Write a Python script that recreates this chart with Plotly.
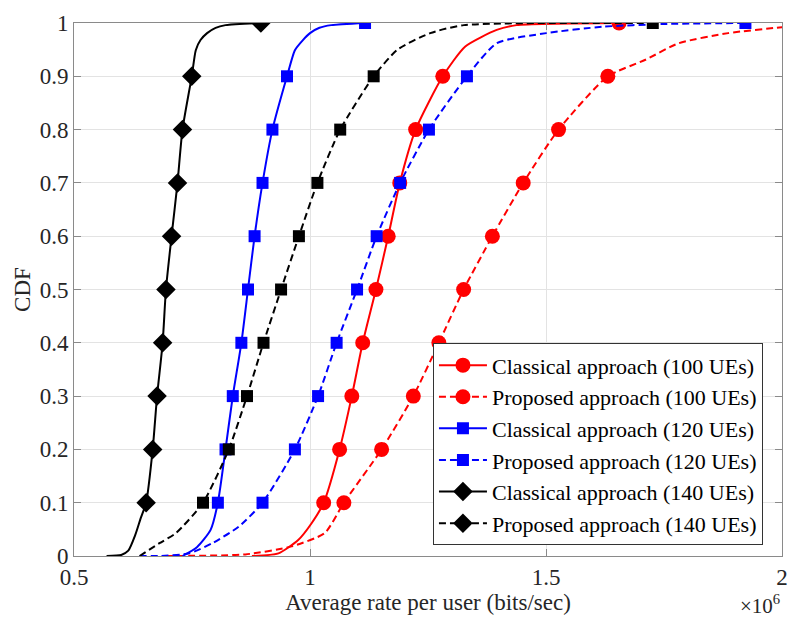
import plotly.graph_objects as go

# ---- data (x in units of 1e6 bits/sec) ----
cdf_levels = [0.1, 0.2, 0.3, 0.4, 0.5, 0.6, 0.7, 0.8, 0.9, 1.0]

# Classical approach (100 UEs)
c100_mx = [1.029, 1.0627, 1.0886, 1.1117, 1.1397, 1.1657, 1.1902, 1.2238, 1.2813, 1.6548]
c100_lo_x = [0.877, 0.933, 0.975, 1.003]
c100_lo_y = [0.0, 0.005, 0.03, 0.061]
c100_hi_x = [1.329, 1.3955, 1.4376]
c100_hi_y = [0.956, 0.987, 0.996]

# Proposed approach (100 UEs)
p100_mx = [1.0718, 1.1517, 1.2189, 1.273, 1.3255, 1.3864, 1.4517, 1.5266, 1.631, 2.12]
p100_lo_x = [0.695, 0.863, 0.961, 1.0312]
p100_lo_y = [0.0, 0.003, 0.018, 0.043]
p100_hi_x = [1.7108, 1.781, 1.886, 2.0]
p100_hi_y = [0.931, 0.962, 0.981, 0.992]

# Classical approach (120 UEs)
c120_mx = [0.8048, 0.821, 0.8364, 0.8546, 0.8686, 0.8826, 0.8994, 0.9204, 0.9513, 1.1166]
c120_lo_x = [0.73, 0.761, 0.7894]
c120_lo_y = [0.0, 0.017, 0.049]
c120_hi_x = [0.968, 0.985, 1.0, 1.02, 1.045]
c120_hi_y = [0.949, 0.968, 0.981, 0.991, 0.996]

# Proposed approach (120 UEs)
p120_mx = [0.8994, 0.968, 1.0171, 1.0564, 1.0997, 1.1412, 1.191, 1.252, 1.3325, 1.9225]
p120_lo_x = [0.639, 0.681, 0.744, 0.793, 0.849]
p120_lo_y = [0.0, 0.0, 0.005, 0.024, 0.055]
p120_hi_x = [1.3955, 1.5006, 1.62, 1.746]
p120_hi_y = [0.962, 0.981, 0.993, 0.998]

# Classical approach (140 UEs)
c140_mx = [0.6528, 0.6667, 0.676, 0.6878, 0.6948, 0.7067, 0.7193, 0.7298, 0.7495, 0.8959]
c140_lo_x = [0.569, 0.60, 0.615, 0.63, 0.641]
c140_lo_y = [0.0, 0.002, 0.01, 0.04, 0.07]
c140_hi_x = [0.758, 0.768, 0.782, 0.80, 0.821]
c140_hi_y = [0.949, 0.968, 0.981, 0.991, 0.996]

# Proposed approach (140 UEs)
p140_mx = [0.7733, 0.828, 0.8665, 0.9015, 0.9387, 0.9765, 1.0157, 1.064, 1.1349, 1.7262]
p140_lo_x = [0.639, 0.681, 0.716]
p140_lo_y = [0.0, 0.024, 0.043]
p140_hi_x = [1.1853, 1.2547, 1.326]
p140_hi_y = [0.95, 0.981, 0.996]

x_ticks = [0.5, 1, 1.5, 2]
x_ticktext = ["0.5", "1", "1.5", "2"]
y_ticks = [0, 0.1, 0.2, 0.3, 0.4, 0.5, 0.6, 0.7, 0.8, 0.9, 1.0]
y_ticktext = ["0", "0.1", "0.2", "0.3", "0.4", "0.5", "0.6", "0.7", "0.8", "0.9", "1"]

FONT = "Liberation Serif"
FS = 23
DASH = "7px,4px"

series = [
    dict(name="Classical approach (100 UEs)", mx=c100_mx, lx=c100_lo_x, ly=c100_lo_y,
         hx=c100_hi_x, hy=c100_hi_y, color="#ff0000", dash="solid", sym="circle", size=15,
         legsym="circle"),
    dict(name="Proposed approach (100 UEs)", mx=p100_mx, lx=p100_lo_x, ly=p100_lo_y,
         hx=p100_hi_x, hy=p100_hi_y, color="#ff0000", dash=DASH, sym="circle", size=15,
         legsym="circle"),
    dict(name="Classical approach (120 UEs)", mx=c120_mx, lx=c120_lo_x, ly=c120_lo_y,
         hx=c120_hi_x, hy=c120_hi_y, color="#0000ff", dash="solid", sym="square", size=12,
         legsym="square"),
    dict(name="Proposed approach (120 UEs)", mx=p120_mx, lx=p120_lo_x, ly=p120_lo_y,
         hx=p120_hi_x, hy=p120_hi_y, color="#0000ff", dash=DASH, sym="square", size=12,
         legsym="square"),
    dict(name="Classical approach (140 UEs)", mx=c140_mx, lx=c140_lo_x, ly=c140_lo_y,
         hx=c140_hi_x, hy=c140_hi_y, color="#000000", dash="solid", sym="diamond", size=15,
         legsym="diamond"),
    dict(name="Proposed approach (140 UEs)", mx=p140_mx, lx=p140_lo_x, ly=p140_lo_y,
         hx=p140_hi_x, hy=p140_hi_y, color="#000000", dash=DASH, sym="square", size=12,
         legsym="diamond"),
]

fig = go.Figure()

for s in series:
    cx = s["lx"] + s["mx"][:9] + s["hx"] + s["mx"][9:]
    cy = s["ly"] + cdf_levels[:9] + s["hy"] + cdf_levels[9:]
    pairs = sorted(zip(cx, cy), key=lambda p: (p[1], p[0]))
    cx = [p[0] for p in pairs]
    cy = [p[1] for p in pairs]
    fig.add_trace(go.Scatter(x=cx, y=cy, mode="lines", showlegend=False,
                             line=dict(color=s["color"], width=2, dash=s["dash"], shape="spline",
                                       smoothing=0.6),
                             hoverinfo="skip"))
    fig.add_trace(go.Scatter(x=s["mx"], y=cdf_levels, mode="markers", showlegend=False,
                             marker=dict(symbol=s["sym"], size=s["size"], color=s["color"],
                                         line=dict(width=0))))

for s in series:
    fig.add_trace(go.Scatter(x=[None], y=[None], mode="lines+markers", name=s["name"],
                             line=dict(color=s["color"], width=2, dash=s["dash"]),
                             marker=dict(symbol=s["legsym"], size=15 if s["legsym"] != "square" else 12,
                                         color=s["color"], line=dict(width=0))))

axis_common = dict(
    showline=True, linecolor="#8a8a8a", linewidth=1, mirror="ticks",
    ticks="inside", ticklen=7, tickcolor="#8a8a8a",
    showgrid=True, gridcolor="#e3e3e3", gridwidth=1,
    zeroline=False, tickfont=dict(family=FONT, size=FS, color="#262626"),
)

fig.update_layout(
    width=794, height=617,
    margin=dict(l=74, r=6, t=23, b=61),
    paper_bgcolor="white", plot_bgcolor="white",
    font=dict(family=FONT, size=FS, color="#262626"),
    xaxis=dict(range=[0.5, 2], tickvals=x_ticks, ticktext=x_ticktext,
               title=dict(text="Average rate per user (bits/sec)", standoff=0,
                          font=dict(family=FONT, size=FS, color="#262626")),
               **axis_common),
    yaxis=dict(range=[0, 1], tickvals=y_ticks, ticktext=y_ticktext,
               title=dict(text="CDF", standoff=2,
                          font=dict(family=FONT, size=FS, color="#262626")),
               **axis_common),
    legend=dict(x=0.507, y=0.02, xanchor="left", yanchor="bottom",
                bgcolor="white", bordercolor="#333333", borderwidth=1,
                font=dict(family=FONT, size=22, color="#000000"),
                tracegroupgap=0, itemsizing="trace", itemwidth=48),
    annotations=[dict(text="×10<sup>6</sup>", xref="paper", yref="paper",
                      x=1.0, y=0, xanchor="right", yanchor="top", yshift=-33,
                      showarrow=False, font=dict(family=FONT, size=21, color="#262626"))],
)

fig.write_html("out.html")
